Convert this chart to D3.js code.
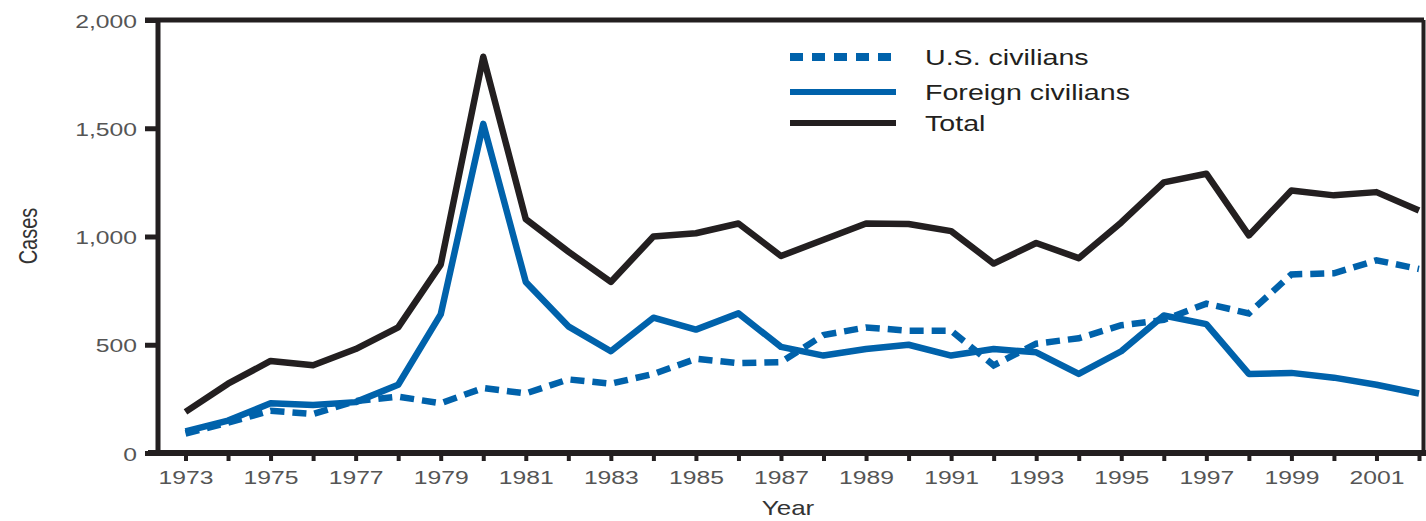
<!DOCTYPE html>
<html>
<head>
<meta charset="utf-8">
<script src="https://cdn.jsdelivr.net/npm/d3@7"></script>
<style>
  body { margin: 0; background: #fff; }
  svg { display: block; font-family: "Liberation Sans", Arial, sans-serif; }
</style>
</head>
<body>
<svg id="chart" width="1426" height="521"></svg>
<script>
// years on the x axis
var years = [1973, 1974, 1975, 1976, 1977, 1978, 1979, 1980, 1981, 1982,
  1983, 1984, 1985, 1986, 1987, 1988, 1989, 1990, 1991, 1992,
  1993, 1994, 1995, 1996, 1997, 1998, 1999, 2000, 2001, 2002];

// cases per year
var usCivilians = [90, 140, 195, 180, 240, 260, 230, 300, 275, 340,
  320, 365, 435, 415, 420, 545, 580, 565, 565, 405,
  505, 530, 590, 615, 690, 645, 825, 830, 890, 850];
var foreignCivilians = [100, 150, 230, 222, 235, 315, 640, 1520, 790, 585,
  470, 625, 570, 645, 490, 450, 480, 500, 450, 480,
  465, 365, 470, 635, 595, 365, 370, 348, 315, 275];
var total = [190, 320, 425, 405, 480, 580, 870, 1830, 1080, 930,
  790, 1000, 1015, 1060, 910, 985, 1060, 1058, 1025, 875,
  970, 900, 1065, 1250, 1290, 1005, 1212, 1190, 1205, 1120];

var yTicks = [0, 500, 1000, 1500, 2000];
var seriesNames = ["U.S. civilians", "Foreign civilians", "Total"];

var black = "#231f20", blue = "#0062ab", gray = "#555";
var stretch = 1.3; // the original text is wider than plain Arial

var svg = d3.select("#chart");

var x = d3.scaleLinear().domain([1973, 2002]).range([185.5, 1419]);
var y = d3.scaleLinear().domain([0, 2000]).range([453, 20]);

// frame: top and right border
svg.append("line").attr("x1", 145).attr("x2", 1424).attr("y1", 20).attr("y2", 20)
  .attr("stroke", black).attr("stroke-width", 5);
svg.append("line").attr("x1", 1423.5).attr("x2", 1423.5).attr("y1", 20).attr("y2", 453)
  .attr("stroke", black).attr("stroke-width", 4);

// y axis
var yAxis = svg.append("g")
  .attr("transform", "translate(158,0)")
  .call(d3.axisLeft(y).tickValues(yTicks).tickSize(13).tickSizeOuter(0).tickFormat(d3.format(",")));
yAxis.select(".domain").remove();
yAxis.selectAll(".tick line").attr("stroke", black).attr("stroke-width", 5);
yAxis.selectAll(".tick text")
  .attr("x", null).attr("dy", null)
  .attr("transform", "translate(-21,7) scale(" + stretch + ",1)")
  .attr("fill", gray).style("font-size", "19px");
svg.append("line").attr("x1", 158).attr("x2", 158).attr("y1", 18).attr("y2", 455)
  .attr("stroke", black).attr("stroke-width", 5);

// x axis
var xAxis = svg.append("g")
  .attr("transform", "translate(0,456)")
  .call(d3.axisBottom(x).tickValues(years).tickSize(5).tickSizeOuter(0)
    .tickFormat(function(d) { return d % 2 ? d : ""; }));
xAxis.select(".domain").remove();
xAxis.selectAll(".tick line").attr("stroke", black).attr("stroke-width", 4);
xAxis.selectAll(".tick text")
  .attr("y", null).attr("dy", null)
  .attr("transform", "translate(0,28) scale(" + stretch + ",1)")
  .attr("fill", gray).style("font-size", "19px");
svg.append("line").attr("x1", 148).attr("x2", 1426).attr("y1", 453).attr("y2", 453)
  .attr("stroke", black).attr("stroke-width", 6);

// axis titles
svg.append("text")
  .attr("transform", "translate(37,236) scale(" + stretch + ",1) rotate(-90)")
  .attr("text-anchor", "middle").attr("fill", "#333").style("font-size", "20px")
  .text("Cases");
svg.append("text")
  .attr("transform", "translate(788,515) scale(" + stretch + ",1)")
  .attr("text-anchor", "middle").attr("fill", "#333").style("font-size", "20px")
  .text("Year");

// lines
var line = d3.line()
  .x(function(d, i) { return x(years[i]); })
  .y(function(d) { return y(d); });

svg.append("path").datum(total)
  .attr("d", line).attr("fill", "none")
  .attr("stroke", black).attr("stroke-width", 6.5).attr("stroke-linejoin", "round");

svg.append("path").datum(foreignCivilians)
  .attr("d", line).attr("fill", "none")
  .attr("stroke", blue).attr("stroke-width", 6.5).attr("stroke-linejoin", "round");

svg.append("path").datum(usCivilians)
  .attr("d", line).attr("fill", "none")
  .attr("stroke", blue).attr("stroke-width", 6.5).attr("stroke-dasharray", "14,8");

// legend
var legendStyles = [
  { color: blue, dash: "13,9", width: 8 },
  { color: blue, dash: null, width: 6 },
  { color: black, dash: null, width: 6 }
];
var legend = svg.selectAll(".legend")
  .data(seriesNames)
  .enter()
  .append("g")
  .attr("class", "legend")
  .attr("transform", function(d, i) { return "translate(0," + [57, 92, 123][i] + ")"; });

legend.append("line")
  .attr("x1", 790).attr("x2", 896)
  .attr("stroke", function(d, i) { return legendStyles[i].color; })
  .attr("stroke-width", function(d, i) { return legendStyles[i].width; })
  .attr("stroke-dasharray", function(d, i) { return legendStyles[i].dash; });

legend.append("text")
  .attr("transform", "translate(925,8) scale(" + stretch + ",1)")
  .attr("fill", black).style("font-size", "22px")
  .text(function(d) { return d; });
</script>
</body>
</html>
